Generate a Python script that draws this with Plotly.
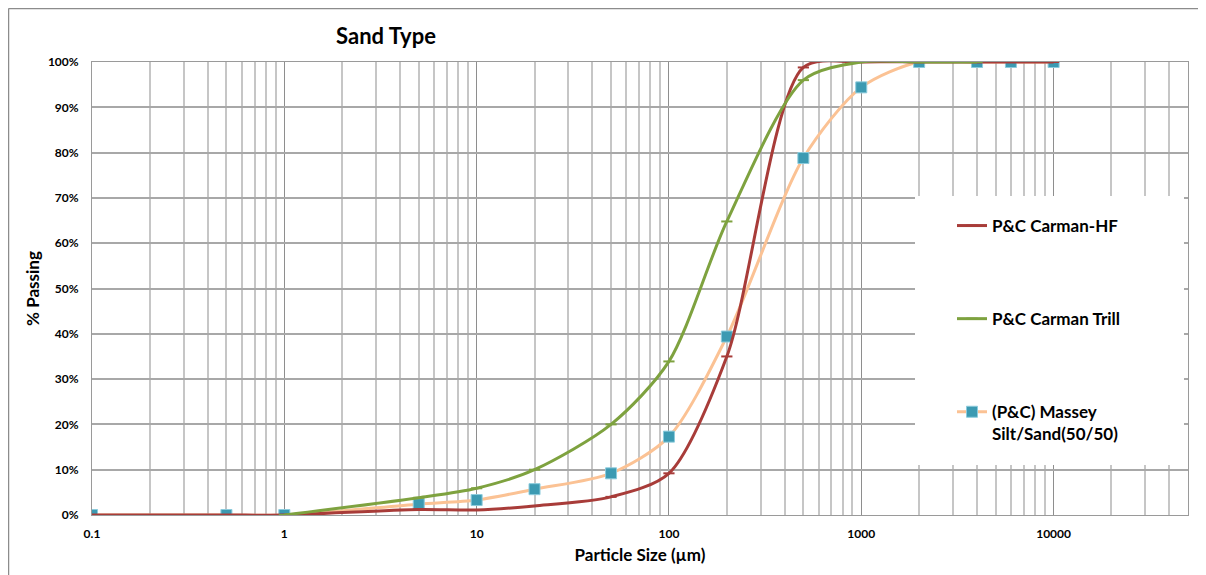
import plotly.graph_objects as go

# ---- data ----
hf_x = [0.1, 0.5, 1, 5, 10, 20, 50, 100, 200, 500, 1000, 2000, 4000, 6000, 10000]
hf_y = [0, 0, 0, 1.2, 1.1, 2.0, 4.0, 9.2, 35.0, 98.8, 100, 100, 100, 100, 100]

trill_x = [1, 5, 10, 20, 50, 100, 200, 500, 1000, 2000, 4000]
trill_y = [0, 3.8, 5.9, 10.0, 20.0, 33.9, 64.8, 96.0, 100, 100, 100]

massey_x = [0.1, 0.5, 1, 5, 10, 20, 50, 100, 200, 500, 1000, 2000, 4000, 6000, 10000]
massey_y = [0, 0, 0, 2.4, 3.3, 5.7, 9.2, 17.3, 39.4, 78.8, 94.4, 100, 100, 100, 100]

names = ["<b>P&C Carman-HF</b>", "<b>P&C Carman Trill</b>",
         "<b>(P&C) Massey<br>Silt/Sand(50/50)</b>"]

x_ticks = [0.1, 1, 10, 100, 1000, 10000]
x_tick_text = ["<b>0.1</b>", "<b>1</b>", "<b>10</b>", "<b>100</b>", "<b>1000</b>", "<b>10000</b>"]
y_ticks = [0, 10, 20, 30, 40, 50, 60, 70, 80, 90, 100]
y_tick_text = [f"<b>{v}%</b>" for v in y_ticks]

minor_vals = [m * 10 ** e for e in range(-1, 5) for m in range(2, 10)]

FONT = "Lato"
RED = "#A83C39"
GREEN = "#7EA23F"
ORANGE = "#FBC294"
TEAL = "#3C9AB2"

# page offset (browser body margin) compensation: figure x = page x - 8
OFF = 8
W, H = 1206, 575
PL, PR, PT, PB = 92 - OFF, 1188 - OFF, 62 - OFF, 515 - OFF
PW, PH = PR - PL, PB - PT


def px(xp):
    return (xp - OFF - PL) / PW


def py(yp):
    return (PB - (yp - OFF)) / PH


fig = go.Figure()

fig.add_trace(go.Scatter(
    x=massey_x, y=massey_y, name=names[2], mode="lines+markers",
    line=dict(color=ORANGE, width=3, shape="spline", smoothing=0.8),
    marker=dict(symbol="square", size=11, color=TEAL, line=dict(color="#8CCBDC", width=1)),
    legendrank=3,
))
fig.add_trace(go.Scatter(
    x=hf_x, y=hf_y, name=names[0], mode="lines+markers",
    line=dict(color=RED, width=3, shape="spline", smoothing=0.8),
    marker=dict(symbol="line-ew", size=8, line=dict(color=RED, width=2)),
    legendrank=1,
))
fig.add_trace(go.Scatter(
    x=trill_x, y=trill_y, name=names[1], mode="lines+markers",
    line=dict(color=GREEN, width=3, shape="spline", smoothing=0.8),
    marker=dict(symbol="line-ew", size=8, line=dict(color=GREEN, width=2)),
    legendrank=2,
))

fig.update_layout(
    width=W, height=H,
    margin=dict(l=PL, r=W - PR, t=PT, b=H - PB, autoexpand=False),
    paper_bgcolor="white", plot_bgcolor="white",
    font=dict(family=FONT, color="#000000"),
    title=dict(text="<b>Sand Type</b>", x=(386 - OFF) / W, xanchor="center",
               y=1 - (36 - OFF) / H, yanchor="middle", font=dict(size=22, family=FONT)),
    showlegend=True,
    legend=dict(x=px(952), y=py(208), xanchor="left", yanchor="top",
                bgcolor="rgba(255,255,255,0)", borderwidth=0, valign="top",
                font=dict(size=17, family=FONT, color="#000000"),
                tracegroupgap=68, itemwidth=30, traceorder="grouped"),
    xaxis=dict(
        type="log", range=[-1, 4.69897], tickvals=x_ticks, ticktext=x_tick_text,
        showgrid=True, gridcolor="#8E8E8E", gridwidth=1,
        minor=dict(tickvals=minor_vals, showgrid=True, gridcolor="#C6C6C6", gridwidth=1.5),
        showline=True, linecolor="#9A9A9A", linewidth=1, mirror=True,
        ticks="", tickfont=dict(size=12, family=FONT, color="#000000"),
        ticklabelstandoff=8,
        title=dict(text="<b>Particle Size (µm)</b>", font=dict(size=17, family=FONT), standoff=8),
        zeroline=False,
    ),
    yaxis=dict(
        range=[0, 100], tickvals=y_ticks, ticktext=y_tick_text,
        showgrid=True, gridcolor="#A8A8A8", gridwidth=1.5,
        showline=True, linecolor="#9A9A9A", linewidth=1, mirror=True,
        ticks="", tickfont=dict(size=12, family=FONT, color="#000000"),
        ticklabelstandoff=10,
        title=dict(text="<b>% Passing</b>", font=dict(size=17, family=FONT), standoff=3),
        zeroline=False,
    ),
)

for i, tr in enumerate(fig.data):
    tr.legendgroup = f"g{i}"

# white legend box covering the grid
fig.add_shape(type="rect", xref="paper", yref="paper",
              x0=px(915), x1=px(1184), y0=py(465), y1=py(196),
              fillcolor="white", line=dict(width=0), layer="above")
# outer chart frame (left + top edges)
fig.add_shape(type="line", xref="paper", yref="paper",
              x0=px(8.5), x1=px(8.5), y0=py(590), y1=py(8.5),
              line=dict(color="#8C8C8C", width=1.5))
fig.add_shape(type="line", xref="paper", yref="paper",
              x0=px(8.5), x1=px(1220), y0=py(8.5), y1=py(8.5),
              line=dict(color="#8C8C8C", width=1.5))

fig.write_html("out.html")
